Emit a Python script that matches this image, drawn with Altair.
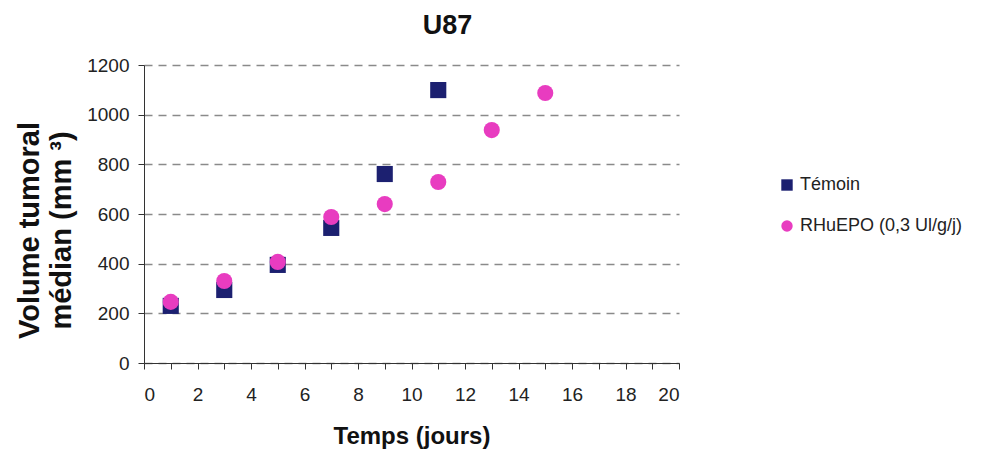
import altair as alt
import pandas as pd

days_temoin = [1, 3, 5, 7, 9, 11]
vol_temoin = [230, 294, 395, 544, 761, 1099]
days_epo = [1, 3, 5, 7, 9, 11, 13, 15]
vol_epo = [246, 330, 407, 588, 640, 729, 938, 1087]
series = ["Témoin", "RHuEPO (0,3 Ul/g/j)"]

df = pd.DataFrame(
    [{"jour": d, "vol": v, "serie": series[0]} for d, v in zip(days_temoin, vol_temoin)]
    + [{"jour": d, "vol": v, "serie": series[1]} for d, v in zip(days_epo, vol_epo)]
)

FONT = "Liberation Sans"

chart = (
    alt.Chart(df)
    .mark_point(filled=True, opacity=1)
    .encode(
        x=alt.X(
            "jour:Q",
            scale=alt.Scale(domain=[0, 20], nice=False),
            axis=alt.Axis(
                values=list(range(0, 21)),
                labelExpr="datum.value % 2 == 0 ? datum.label : ''",
                grid=False,
                title="Temps (jours)",
                titlePadding=20,
                titleFontSize=24,
                titleFontWeight="bold",
                labelFontSize=19,
                labelPadding=16,
                tickSize=6,
                tickColor="#333",
                domainColor="#333",
                labelColor="#222",
                titleColor="#111",
            ),
        ),
        y=alt.Y(
            "vol:Q",
            scale=alt.Scale(domain=[0, 1200], nice=False),
            axis=alt.Axis(
                values=[0, 200, 400, 600, 800, 1000, 1200],
                format="d",
                grid=True,
                gridDash=[8, 6],
                gridColor="#8a8a8a",
                gridWidth=1.3,
                title=["Volume tumoral", "médian (mm ³)"],
                titleFontSize=29,
                titleFontWeight="bold",
                titlePadding=10,
                titleLineHeight=32,
                titleY=165,
                labelFontSize=19,
                labelPadding=9,
                tickSize=6,
                tickColor="#333",
                domainColor="#333",
                labelColor="#222",
                titleColor="#111",
            ),
        ),
        color=alt.Color(
            "serie:N",
            scale=alt.Scale(domain=series, range=["#1c2070", "#e83cc0"]),
            legend=alt.Legend(
                title=None,
                orient="none",
                legendX=634,
                legendY=111,
                labelFontSize=18,
                labelLimit=400,
                symbolSize=130,
                rowPadding=23,
                labelColor="#222",
                labelFont=FONT,
            ),
        ),
        shape=alt.Shape(
            "serie:N",
            scale=alt.Scale(domain=series, range=["square", "circle"]),
        ),
        order=alt.Order("ord:Q"),
    )
    .transform_calculate(ord="datum.serie == 'Témoin' ? 0 : 1")
    .properties(
        width=535,
        height=298,
        title=alt.TitleParams(
            "U87", fontSize=27, fontWeight="bold", dx=36, offset=16, color="#111", font=FONT
        ),
        autosize=alt.AutoSizeParams(type="none"),
        padding={"left": 136, "top": 57, "right": 300, "bottom": 90},
    )
    .configure(font=FONT)
    .configure_view(stroke=None)
    .configure_point(size=260)
)

chart.save("out.html", embed_options={"renderer": "svg", "actions": False})
